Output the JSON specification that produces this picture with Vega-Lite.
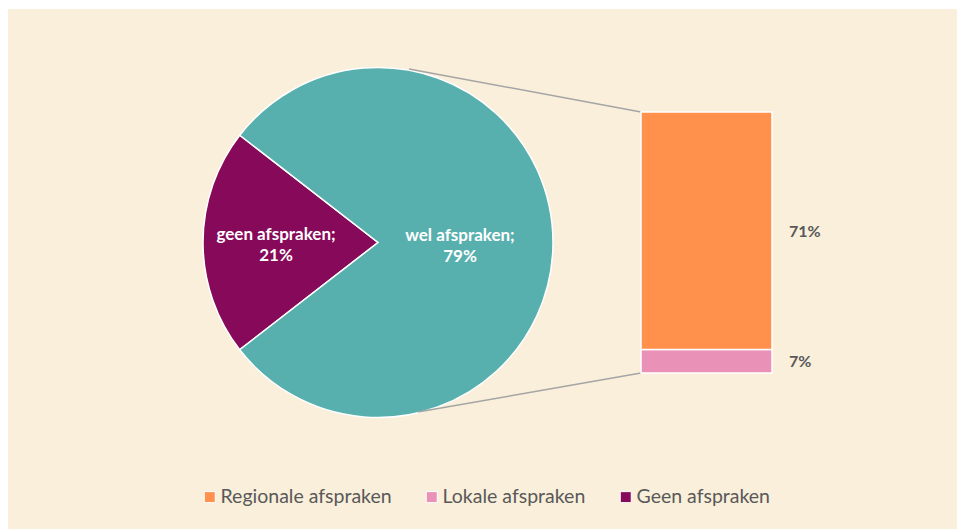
{
  "$schema": "https://vega.github.io/schema/vega-lite/v6.json",
  "width": 949,
  "height": 520,
  "autosize": {"type": "none"},
  "padding": {"left": 8, "top": 9, "right": 0, "bottom": 0},
  "background": "#FFFFFF",
  "config": {
    "view": {"fill": "#F9EFDA", "stroke": null},
    "font": "Lato",
    "text": {"font": "Lato"}
  },
  "datasets": {
    "pie": [
      {"categorie": "Geen afspraken", "aandeel": 21, "volgorde": 1, "label": "geen afspraken;\n21%"},
      {"categorie": "wel afspraken", "aandeel": 79, "volgorde": 2, "label": "wel afspraken;\n79%"}
    ],
    "staaf": [
      {"categorie": "Lokale afspraken", "aandeel": 7, "volgorde": 1, "label": "7%"},
      {"categorie": "Regionale afspraken", "aandeel": 71, "volgorde": 2, "label": "71%"}
    ]
  },
  "layer": [
    {
      "data": {"name": "pie"},
      "mark": {"type": "arc", "outerRadius": 175, "stroke": "#FFFFFF", "strokeWidth": 1.5},
      "encoding": {
        "x": {"datum": 370, "type": "quantitative", "scale": {"domain": [0, 949], "nice": false, "zero": false}, "axis": null},
        "y": {"datum": 39, "type": "quantitative", "scale": {"domain": [-46.62, 108.78], "nice": false, "zero": false}, "axis": null},
        "theta": {"field": "aandeel", "type": "quantitative", "stack": true, "scale": {"range": [4.0527, 10.3359]}},
        "order": {"field": "volgorde", "type": "quantitative"},
        "color": {
          "field": "categorie",
          "type": "nominal",
          "scale": {
            "domain": ["Regionale afspraken", "Lokale afspraken", "Geen afspraken", "wel afspraken"],
            "range": ["#FF914D", "#E991B6", "#870A5A", "#58B0AE"]
          },
          "legend": {
            "values": ["Regionale afspraken", "Lokale afspraken", "Geen afspraken"],
            "title": null,
            "orient": "none",
            "direction": "horizontal",
            "legendX": 192,
            "legendY": 478,
            "padding": 0,
            "symbolType": "square",
            "symbolSize": 121,
            "symbolStrokeColor": "#FFFFFF",
            "symbolStrokeWidth": 1,
            "symbolOpacity": 1,
            "labelFont": "Lato",
            "labelFontSize": 19.5,
            "labelColor": "#595959",
            "labelOffset": 1,
            "labelLimit": 400,
            "columnPadding": 30
          }
        }
      }
    },
    {
      "data": {"name": "pie"},
      "mark": {"type": "text", "radius": 92, "dx": -10, "dy": -7, "fontSize": 17, "fontWeight": "bold", "color": "#FFFFFF", "lineBreak": "\n", "lineHeight": 21, "align": "center", "baseline": "middle"},
      "encoding": {
        "x": {"datum": 370, "type": "quantitative"},
        "y": {"datum": 39, "type": "quantitative"},
        "theta": {"field": "aandeel", "type": "quantitative", "stack": true},
        "order": {"field": "volgorde", "type": "quantitative"},
        "text": {"field": "label"}
      }
    },
    {
      "data": {"values": [{"lijn": "boven"}]},
      "mark": {"type": "rule", "color": "#A5A5A5", "strokeWidth": 1.5},
      "encoding": {
        "x": {"datum": 401, "type": "quantitative"},
        "y": {"datum": 90.86, "type": "quantitative"},
        "x2": {"datum": 633},
        "y2": {"datum": 78}
      }
    },
    {
      "data": {"values": [{"lijn": "onder"}]},
      "mark": {"type": "rule", "color": "#A5A5A5", "strokeWidth": 1.5},
      "encoding": {
        "x": {"datum": 410, "type": "quantitative"},
        "y": {"datum": -11.66, "type": "quantitative"},
        "x2": {"datum": 633},
        "y2": {"datum": 0}
      }
    },
    {
      "data": {"name": "staaf"},
      "transform": [
        {"stack": "aandeel", "groupby": [], "sort": [{"field": "volgorde"}], "as": ["y0", "y1"]}
      ],
      "mark": {"type": "rect", "stroke": "#FFFFFF", "strokeWidth": 1.5},
      "encoding": {
        "x": {"datum": 633, "type": "quantitative"},
        "x2": {"datum": 764},
        "y": {"field": "y0", "type": "quantitative"},
        "y2": {"field": "y1"},
        "color": {"field": "categorie", "type": "nominal"}
      }
    },
    {
      "data": {"name": "staaf"},
      "transform": [
        {"stack": "aandeel", "groupby": [], "sort": [{"field": "volgorde"}], "as": ["y0", "y1"]},
        {"calculate": "(datum.y0 + datum.y1) / 2", "as": "midden"}
      ],
      "mark": {"type": "text", "dx": 17, "dy": 1, "align": "left", "baseline": "middle", "fontSize": 16, "fontWeight": "bold", "color": "#595959"},
      "encoding": {
        "x": {"datum": 764, "type": "quantitative"},
        "y": {"field": "midden", "type": "quantitative"},
        "text": {"field": "label"}
      }
    }
  ]
}
